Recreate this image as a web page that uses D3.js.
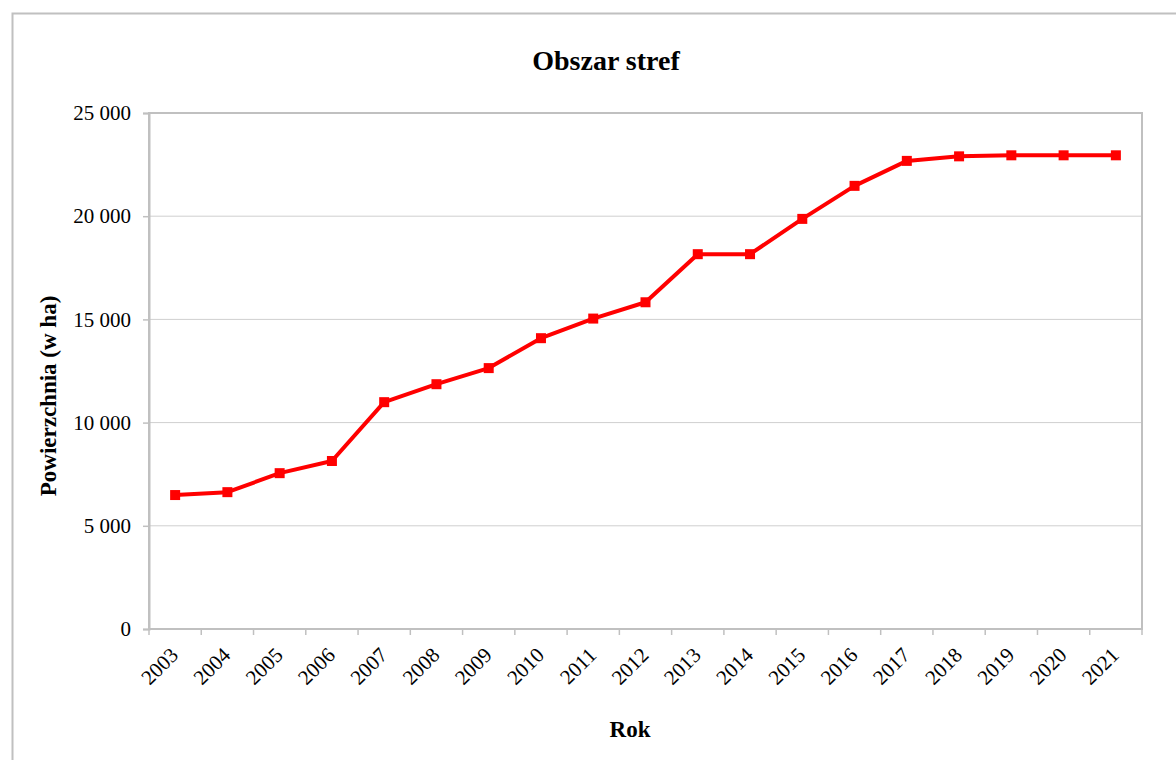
<!DOCTYPE html>
<html><head><meta charset="utf-8">
<script src="https://cdn.jsdelivr.net/npm/d3@7"></script>
<style>body{margin:0;background:#fff;} svg{display:block;}</style>
</head><body>
<svg id="c" width="1176" height="760"></svg>
<script>
const years = ["2003","2004","2005","2006","2007","2008","2009","2010","2011","2012","2013","2014","2015","2016","2017","2018","2019","2020","2021"];
const area = [6490,6630,7550,8140,10990,11860,12640,14090,15040,15830,18160,18160,19870,21470,22680,22900,22950,22950,22950];
const yTicks = [0,5000,10000,15000,20000,25000];
const title = "Obszar stref";
const xTitle = "Rok";
const yTitle = "Powierzchnia (w ha)";

const svg = d3.select("#c");
const L = 149, R = 1142, T = 113, B = 629;
const grey = "#c0c0c0";
const serif = "'Liberation Serif','Times New Roman',serif";

svg.append("rect").attr("x",12.5).attr("y",13.5).attr("width",1190).attr("height",800)
  .attr("fill","#fff").attr("stroke",grey).attr("stroke-width",2);

const x = d3.scaleBand().domain(years).range([L,R]).padding(0);
const y = d3.scaleLinear().domain([0,25000]).range([B,T]);

// gridlines
svg.append("g").selectAll("line").data(yTicks.slice(1,-1)).join("line")
  .attr("x1",L).attr("x2",R).attr("y1",d=>y(d)).attr("y2",d=>y(d))
  .attr("stroke","#cfcfcf").attr("stroke-width",1);

// plot border
svg.append("rect").attr("x",L).attr("y",T).attr("width",R-L).attr("height",B-T)
  .attr("fill","none").attr("stroke",grey).attr("stroke-width",2);

// y axis
const fmt = d => d3.format(",")(d).replace(/,/g," ");
const yAxis = svg.append("g").attr("transform",`translate(${L},0)`)
  .call(d3.axisLeft(y).tickValues(yTicks).tickSize(6).tickPadding(12).tickFormat(fmt));
yAxis.select(".domain").attr("stroke",grey).attr("stroke-width",2);
yAxis.selectAll(".tick line").attr("stroke",grey).attr("stroke-width",1.5);
yAxis.selectAll("text").attr("font-family",serif).attr("font-size",21).attr("fill","#000");

// x axis ticks at category boundaries
const bounds = years.map(d=>x(d)).concat([R]);
svg.append("g").selectAll("line").data(bounds).join("line")
  .attr("x1",d=>d).attr("x2",d=>d).attr("y1",B).attr("y2",B+6)
  .attr("stroke",grey).attr("stroke-width",1.5);
svg.append("line").attr("x1",L).attr("x2",R).attr("y1",B).attr("y2",B).attr("stroke",grey).attr("stroke-width",2);

svg.append("g").selectAll("text").data(years).join("text")
  .attr("transform",d=>`translate(${x(d)+x.bandwidth()/2-6},${B+17}) rotate(-45)`)
  .attr("text-anchor","end").attr("dy","0.7em")
  .attr("font-family",serif).attr("font-size",21).attr("fill","#000")
  .text(d=>d);

// line
const cx = d => x(d)+x.bandwidth()/2;
svg.append("path").datum(years.map((d,i)=>[cx(d),y(area[i])]))
  .attr("d",d3.line()).attr("fill","none").attr("stroke","#ff0000").attr("stroke-width",4)
  .attr("stroke-linejoin","round");
svg.append("g").selectAll("rect").data(years).join("rect")
  .attr("x",d=>cx(d)-5).attr("y",(d,i)=>y(area[i])-5).attr("width",10).attr("height",10)
  .attr("fill","#ff0000");

// titles
svg.append("text").attr("x",606).attr("y",70).attr("text-anchor","middle")
  .attr("font-family",serif).attr("font-weight","bold").attr("font-size",28).text(title);
svg.append("text").attr("x",630).attr("y",737).attr("text-anchor","middle")
  .attr("font-family",serif).attr("font-weight","bold").attr("font-size",23).text(xTitle);
svg.append("text").attr("transform","translate(56,396) rotate(-90)").attr("text-anchor","middle")
  .attr("font-family",serif).attr("font-weight","bold").attr("font-size",23).text(yTitle);
</script>
</body></html>
